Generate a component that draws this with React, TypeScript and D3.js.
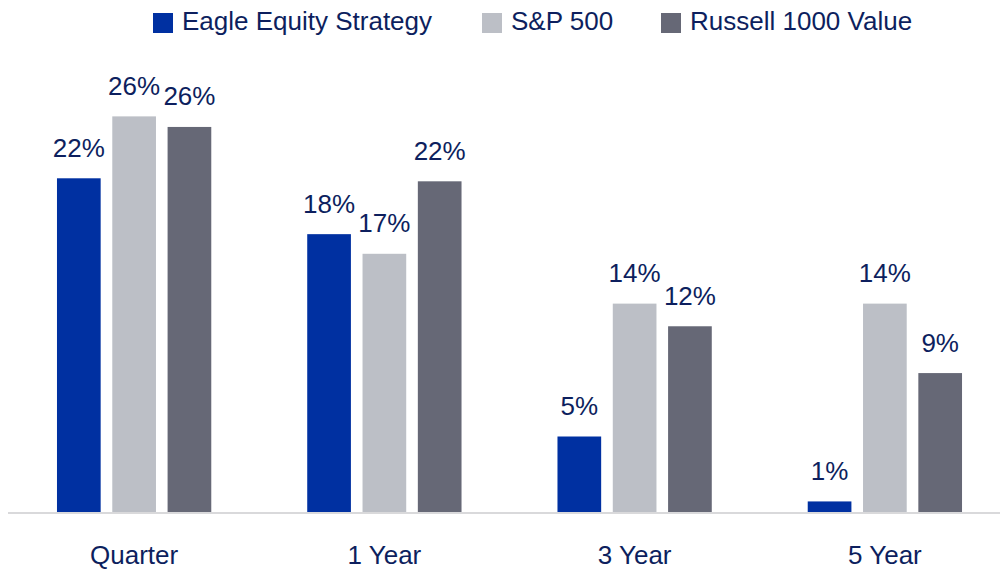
import React from "react";
import * as d3 from "d3";

const categories = ["Quarter", "1 Year", "3 Year", "5 Year"];
const seriesNames = ["Eagle Equity Strategy", "S&P 500", "Russell 1000 Value"];
const eagle = [22.1, 18.4, 5.0, 0.7];
const sp500 = [26.2, 17.1, 13.8, 13.8];
const russell = [25.5, 21.9, 12.3, 9.2];
const colors = ["#0030A1", "#BCBFC6", "#666876"];

const W = 1000;
const H = 569;
const TEXT = "#0D1F5E";
const FONT = "'Liberation Sans', Arial, sans-serif";

export default function App() {
  const seriesValues = [eagle, sp500, russell];
  const x0 = d3.scaleBand<string>().domain(categories).range([9, 1010]);
  const x1 = d3.scaleBand<string>().domain(seriesNames).range([-77.15, 77.15]).paddingInner(0.21);
  const y = d3.scaleLinear().domain([0, 30]).range([512, 59]);
  const legendX = [153, 482, 661];

  return (
    <svg width={W} height={H} style={{ position: "absolute", left: 0, top: 0, display: "block", background: "#fff" }} fontFamily={FONT}>
      {seriesNames.map((name, i) => (
        <g key={name}>
          <rect x={legendX[i]} y={13} width={20} height={20} fill={colors[i]} />
          <text x={legendX[i] + 29} y={30} fontSize={26} fill={TEXT}>{name}</text>
        </g>
      ))}
      {categories.map((cat, ci) => {
        const cx = (x0(cat) as number) + x0.bandwidth() / 2;
        return (
          <g key={cat}>
            {seriesNames.map((s, si) => {
              const v = seriesValues[si][ci];
              const bx = cx + (x1(s) as number);
              const top = y(v);
              return (
                <g key={s}>
                  <rect x={bx} y={top} width={x1.bandwidth()} height={y(0) - top} fill={colors[si]} />
                  <text x={bx + x1.bandwidth() / 2} y={top - 21.5} fontSize={26} fill={TEXT} textAnchor="middle">
                    {Math.round(v)}%
                  </text>
                </g>
              );
            })}
            <text x={cx} y={564} fontSize={26} fill={TEXT} textAnchor="middle">{cat}</text>
          </g>
        );
      })}
      <line x1={8} x2={1000} y1={513} y2={513} stroke="#D9D9DB" strokeWidth={2} />
    </svg>
  );
}
